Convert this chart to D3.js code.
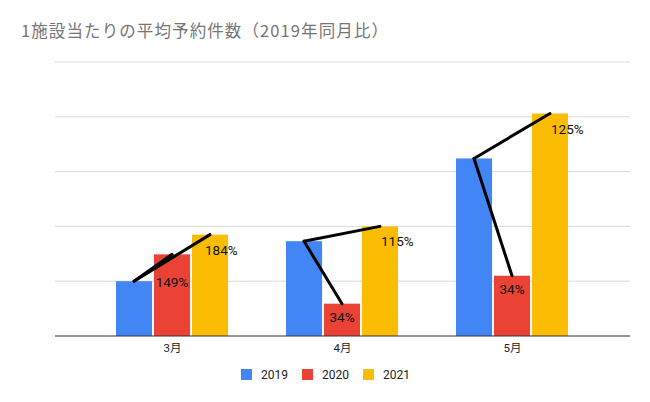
<!DOCTYPE html>
<html><head><meta charset="utf-8">
<script src="https://cdn.jsdelivr.net/npm/d3@7"></script>
<style>body{margin:0;background:#fff}svg{display:block}</style>
</head><body>
<svg id="c" width="650" height="402"></svg>
<script>
const title = "1施設当たりの平均予約件数（2019年同月比）";
const categories = ["3月", "4月", "5月"];
const seriesNames = ["2019", "2020", "2021"];
const values2019 = [1.00, 1.73, 3.24];
const values2020 = [1.49, 0.59, 1.10];
const values2021 = [1.85, 2.00, 4.06];
const pctLabels2020 = ["149%", "34%", "34%"];
const pctLabels2021 = ["184%", "115%", "125%"];
const yTicks = [0, 1, 2, 3, 4, 5];
const colors = ["#4285f4", "#ea4335", "#fbbc04"];

const series = [values2019, values2020, values2021];
const svg = d3.select("#c");
const W = 650, H = 402;
const plot = {left: 55, right: 630, top: 62, bottom: 336};

svg.append("rect").attr("width", W).attr("height", H).attr("fill", "#fff");

svg.append("text").attr("x", 21).attr("y", 37)
  .attr("font-family", "'Noto Sans CJK JP', Roboto, sans-serif")
  .attr("font-size", 16.5).attr("fill", "#757575")
  .attr("textLength", 367).attr("lengthAdjust", "spacing").text(title);

const y = d3.scaleLinear().domain([0, 5]).range([plot.bottom, plot.top]);
const x0 = d3.scaleBand().domain(categories).range([87, 597]).padding(0);
const groupW = 112;
const x1 = d3.scaleBand().domain(seriesNames).range([0, groupW]).paddingInner(0.05);
const off = (x0.bandwidth() - groupW) / 2;

// gridlines
svg.append("g").selectAll("line").data(yTicks.filter(t => t > 0)).join("line")
  .attr("x1", plot.left).attr("x2", plot.right)
  .attr("y1", d => y(d)).attr("y2", d => y(d))
  .attr("stroke", "#d9d9d9").attr("stroke-width", 1);

// bars
const groups = svg.append("g").selectAll("g").data(categories).join("g")
  .attr("transform", c => `translate(${x0(c) + off},0)`);
groups.selectAll("rect").data((c, i) => seriesNames.map((s, j) => ({s, v: series[j][i], j})))
  .join("rect")
  .attr("x", d => x1(d.s)).attr("width", x1.bandwidth())
  .attr("y", d => y(d.v)).attr("height", d => y(0) - y(d.v))
  .attr("fill", d => colors[d.j]);

// baseline
svg.append("line").attr("x1", plot.left).attr("x2", plot.right)
  .attr("y1", y(0)).attr("y2", y(0)).attr("stroke", "#333").attr("stroke-width", 1.2);

// x axis labels
const xAxis = d3.axisBottom(d3.scalePoint().domain(categories).range([x0(categories[0]) + x0.bandwidth()/2, x0(categories[2]) + x0.bandwidth()/2])).tickSize(0).tickPadding(8);
const ax = svg.append("g").attr("transform", `translate(0,${y(0)})`).call(xAxis);
ax.select(".domain").remove();
ax.selectAll("text").attr("font-family", "Roboto, 'Noto Sans CJK JP', sans-serif").attr("font-size", 11.5).attr("fill", "#222");

// annotation lines
const cx = (c, s) => x0(c) + off + x1(s) + x1.bandwidth() / 2;
const ann = svg.append("g");
categories.forEach((c, i) => {
  [1, 2].forEach(j => {
    ann.append("line")
      .attr("x1", cx(c, seriesNames[0])).attr("y1", y(values2019[i]))
      .attr("x2", cx(c, seriesNames[j])).attr("y2", y(series[j][i]))
      .attr("stroke", "#000").attr("stroke-width", 3).attr("stroke-linecap", "round");
  });
});

// percentage labels
const lab = svg.append("g").attr("font-family", "Roboto, sans-serif").attr("font-size", 13.5).attr("fill", "#111");
categories.forEach((c, i) => {
  lab.append("text").attr("text-anchor", "middle")
    .attr("x", cx(c, seriesNames[1]))
    .attr("y", y(values2020[i]) + (i === 0 ? 33 : 18))
    .text(pctLabels2020[i]);
  lab.append("text").attr("text-anchor", "start")
    .attr("x", cx(c, seriesNames[2]) + (i === 0 ? -5 : 1))
    .attr("y", y(values2021[i]) + 20)
    .text(pctLabels2021[i]);
});

// legend
const leg = svg.append("g").attr("transform", "translate(241,369)");
const legX = d3.scalePoint().domain(seriesNames).range([0, 122]);
const li = leg.selectAll("g").data(seriesNames).join("g").attr("transform", d => `translate(${legX(d)},0)`);
li.append("rect").attr("width", 11).attr("height", 11).attr("fill", (d, i) => colors[i]);
li.append("text").attr("x", 20).attr("y", 10).attr("font-family", "Roboto, sans-serif")
  .attr("font-size", 12).attr("fill", "#222").text(d => d);
</script>
</body></html>
